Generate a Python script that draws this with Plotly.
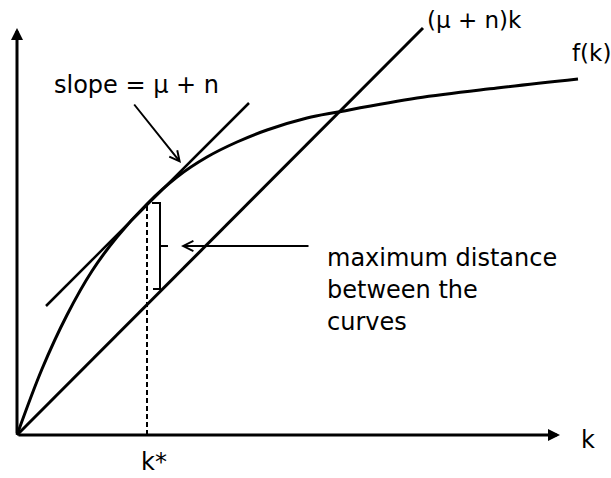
import plotly.graph_objects as go

# f(k) curve points (k, f(k))
k_vals = [0, 25, 50, 75, 100, 130, 160, 190, 220, 250, 290, 321, 400, 480, 561]
f_vals = [0, 66, 120, 164, 198, 231, 258, 278, 293, 305, 317, 323, 337, 347, 356]

# (mu + n) k straight line
line_k = [0, 406]
line_y = [0, 407]

# tangent line with slope = mu + n touching f(k) at k*
tan_k = [29, 232]
tan_y = [129, 332]

# steady-state k*
k_star = 130
f_k_star = 231

FONT = "DejaVu Sans"
BLACK = "#000000"

fig = go.Figure()

fig.add_trace(go.Scatter(x=k_vals, y=f_vals, mode="lines",
                         line=dict(color=BLACK, width=3, shape="spline", smoothing=1.0),
                         hoverinfo="skip", showlegend=False))
fig.add_trace(go.Scatter(x=line_k, y=line_y, mode="lines",
                         line=dict(color=BLACK, width=3),
                         hoverinfo="skip", showlegend=False))
fig.add_trace(go.Scatter(x=tan_k, y=tan_y, mode="lines",
                         line=dict(color=BLACK, width=2.5),
                         hoverinfo="skip", showlegend=False))
# dashed vertical line at k*
fig.add_trace(go.Scatter(x=[k_star, k_star], y=[0, f_k_star], mode="lines",
                         line=dict(color=BLACK, width=2, dash="5px,3px"),
                         hoverinfo="skip", showlegend=False))
# bracket
fig.add_trace(go.Scatter(x=[135, 143, 143, 136], y=[232, 232, 146, 146], mode="lines",
                         line=dict(color=BLACK, width=2),
                         hoverinfo="skip", showlegend=False))
fig.add_trace(go.Scatter(x=[143, 151], y=[189, 189], mode="lines",
                         line=dict(color=BLACK, width=2),
                         hoverinfo="skip", showlegend=False))

annotations = []
# axes with arrows
annotations.append(dict(x=0, y=407, ax=0, ay=0, xref="x", yref="y", axref="x", ayref="y",
                        text="", showarrow=True, arrowhead=2, arrowsize=0.8, arrowwidth=3,
                        arrowcolor=BLACK, standoff=0, startstandoff=0))
annotations.append(dict(x=543, y=0, ax=0, ay=0, xref="x", yref="y", axref="x", ayref="y",
                        text="", showarrow=True, arrowhead=2, arrowsize=0.8, arrowwidth=3,
                        arrowcolor=BLACK, standoff=0, startstandoff=0))
# slope arrow
annotations.append(dict(x=164, y=272, ax=116, ay=332, xref="x", yref="y", axref="x", ayref="y",
                        text="", showarrow=True, arrowhead=5, arrowsize=1, arrowwidth=2,
                        arrowcolor=BLACK, standoff=0, startstandoff=0))
# distance arrow
annotations.append(dict(x=164, y=189, ax=293, ay=189, xref="x", yref="y", axref="x", ayref="y",
                        text="", showarrow=True, arrowhead=5, arrowsize=1, arrowwidth=2,
                        arrowcolor=BLACK, standoff=0, startstandoff=0))

def label(text, x, y, xanchor="center", size=24, align="center"):
    return dict(x=x, y=y, xref="x", yref="y", text=text, showarrow=False,
                xanchor=xanchor, yanchor="middle", align=align,
                font=dict(family=FONT, size=size, color=BLACK))

annotations.append(label("slope = μ + n", 119.5, 350))
annotations.append(label("(μ + n)k", 457.5, 415, size=23))
annotations.append(label("f(k)", 574, 382, size=23))
annotations.append(label("maximum distance", 308, 177, xanchor="left", align="left"))
annotations.append(label("between the", 308, 145, xanchor="left", align="left"))
annotations.append(label("curves", 308, 113, xanchor="left", align="left"))
annotations.append(label("k*", 137, -27))
annotations.append(label("k", 571, -5))

fig.update_layout(
    width=611, height=478,
    margin=dict(l=0, r=0, t=0, b=0),
    paper_bgcolor="white", plot_bgcolor="white",
    xaxis=dict(range=[-17, 594], visible=False, fixedrange=True),
    yaxis=dict(range=[-43, 435], visible=False, fixedrange=True),
    annotations=annotations,
    showlegend=False,
)

fig.write_html(
    "out.html",
    config={"displayModeBar": False, "staticPlot": True},
    post_script="document.body.style.margin='0';document.body.style.overflow='hidden';",
)
